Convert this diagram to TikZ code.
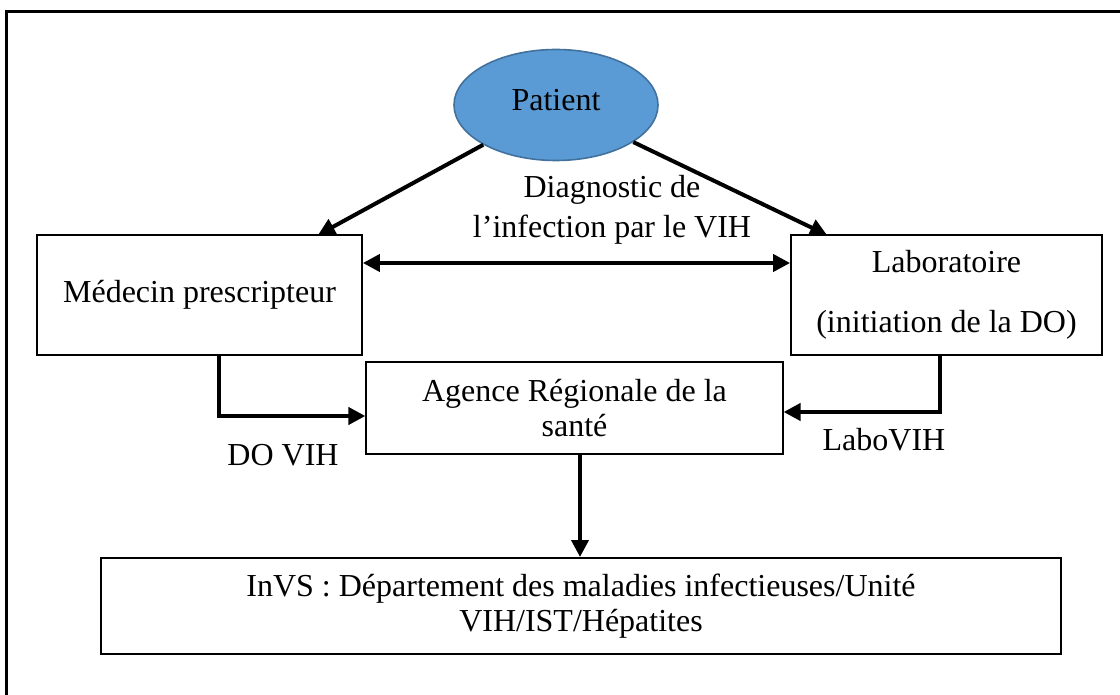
\documentclass[tikz,border=0pt]{standalone}
\usepackage{fontspec}
\setmainfont{Liberation Serif}
\usetikzlibrary{arrows.meta,calc,shapes.geometric}
\definecolor{patfill}{HTML}{5B9BD5}
\definecolor{patdraw}{HTML}{41719C}
\tikzset{
  box/.style={draw=black, line width=0.9pt, rectangle, align=center, inner sep=0pt,
    font=\fontsize{16}{17.5}\selectfont},
  lbl/.style={align=center, inner sep=0pt, font=\fontsize{16}{17.5}\selectfont},
  conn/.style={line width=2pt, -{Triangle[length=8.5pt,width=8.5pt]}},
  dconn/.style={line width=2pt, {Triangle[length=8.5pt,width=8.5pt]}-{Triangle[length=8.5pt,width=8.5pt]}},
}
\begin{document}
\begin{tikzpicture}[x=0.5pt,y=-0.5pt]
\useasboundingbox (0,0) rectangle (1120,695);
\draw[line width=1.5pt] (6,695) -- (6,12) -- (1120,12);

\node[ellipse, draw=patdraw, line width=0.8pt, fill=patfill, minimum width=102pt, minimum height=55.5pt, inner sep=0pt,
  font=\fontsize{16}{17.5}\selectfont] (pat) at (556,105) {\raisebox{5pt}{Patient}};

\node[box, minimum width=162.5pt, minimum height=60pt] (med) at (199.5,295) {\raisebox{3pt}{Médecin prescripteur}};
\node[box, minimum width=155.5pt, minimum height=60pt] (lab) at (946.5,295) {Laboratoire\\[12.5pt](initiation de la DO)};
\node[box, line width=0.6pt, minimum width=208.5pt, minimum height=46pt] (ag) at (574.5,408) {Agence Régionale de la\\santé};
\node[box, line width=1pt, minimum width=480pt, minimum height=48pt] (invs) at (581,606) {InVS : Département des maladies infectieuses/Unité\\VIH/IST/Hépatites};

\node[lbl] (diag) at (612,210) {Diagnostic de\\[2.5pt]l’infection par le VIH};
\node[lbl] (dovih) at (283,455) {DO VIH};
\node[lbl] (labovih) at (884,440) {LaboVIH};

\coordinate (medtop) at (318,235);
\coordinate (labtop) at (827,235);
\coordinate (y263) at (0,263);
\coordinate (x219) at (219,0);
\coordinate (y416) at (0,416);
\coordinate (x940) at (940,0);
\coordinate (y412) at (0,412);
\coordinate (x580) at (580,0);

\draw[conn] (pat) -- (medtop);
\draw[conn] (pat) -- (labtop);
\draw[dconn] (med.east |- y263) -- (lab.west |- y263);
\draw[conn] (med.south -| x219) |- (ag.west |- y416);
\draw[conn] (lab.south -| x940) |- (ag.east |- y412);
\draw[conn] (ag.south -| x580) -- (invs.north -| x580);
\end{tikzpicture}
\end{document}
